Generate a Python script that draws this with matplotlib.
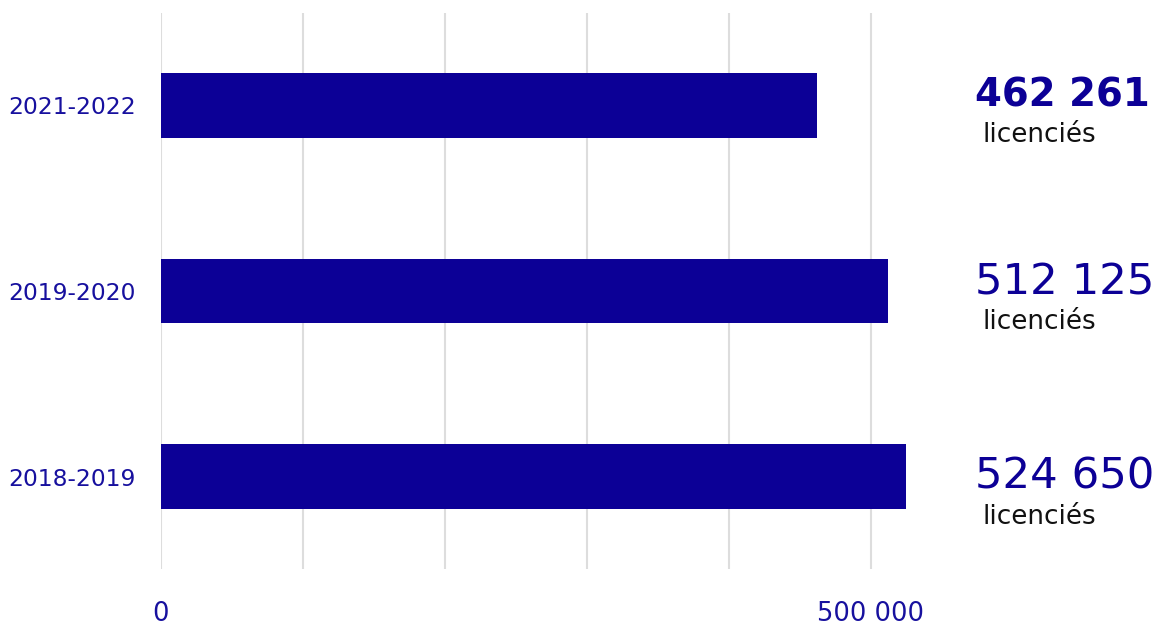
import numpy as np
import matplotlib.pyplot as plt

# Licence counts per season
seasons  = ['2018-2019', '2019-2020', '2021-2022']
licences = [524650, 512125, 462261]
value_labels = ['524 650', '512 125', '462 261']
highlight = '2021-2022'

xticks      = [0, 100000, 200000, 300000, 400000, 500000]
xticklabels = ['0', '', '', '', '', '500 000']

BAR_COLOR  = '#0c0096'
TEXT_COLOR = '#17109e'
GRID_COLOR = '#dddddd'
FONT = 'DejaVu Sans'

# vertical nudge of each annotation block (in bar units)
label_nudge = [-0.067, -0.019, -0.011]

W, H = 1159, 626
fig = plt.figure(figsize=(W / 100, H / 100), dpi=100)
# axes box in pixels: left 161, bottom 569.25, top 12.75
ax = fig.add_axes([161 / W, 1 - 569.25 / H, (942 - 161) / W, (569.25 - 12.75) / H])

y = np.arange(len(seasons))
ax.barh(y, licences, height=0.35, color=BAR_COLOR, zorder=3)

ax.set_xlim(0, 550000)
ax.set_ylim(-0.5, len(seasons) - 0.5)

ax.set_xticks(xticks)
ax.set_xticklabels(xticklabels)
ax.set_yticks(y)
ax.set_yticklabels(seasons)
ax.tick_params(axis='x', length=0, pad=23, labelsize=18.5, labelcolor=TEXT_COLOR)
ax.tick_params(axis='y', length=0, pad=18, labelsize=16.8, labelcolor=TEXT_COLOR)
for lab in ax.get_xticklabels() + ax.get_yticklabels():
    lab.set_family(FONT)

ax.grid(axis='x', color=GRID_COLOR, lw=1.5, zorder=0)
ax.grid(axis='y', visible=False)
for spine in ax.spines.values():
    spine.set_visible(False)

# value annotations to the right of the bars
x_text = (975 - 161) / 1.42e-3
for yi, season, lab, dy in zip(y, seasons, value_labels, label_nudge):
    if season == highlight:
        weight, size = 'heavy', 27.8
    else:
        weight, size = 'normal', 31.3
    ax.text(x_text, yi + 0.065 + dy, lab, ha='left', va='center', fontsize=size,
            fontweight=weight, color=BAR_COLOR, family=FONT, clip_on=False)
    ax.text(x_text + 5500, yi - 0.15 + dy, 'licenciés', ha='left', va='center',
            fontsize=18.9, color='#111111', family=FONT, clip_on=False)

fig.savefig('out.png', dpi=100)
